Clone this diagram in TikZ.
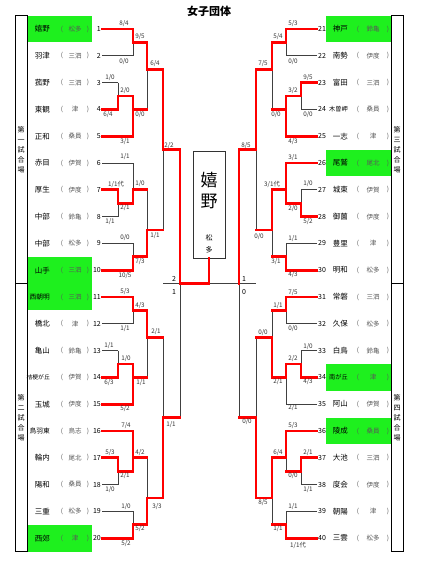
\documentclass[tikz,border=0pt]{standalone}
\usepackage{fontspec}
\newfontfamily\jp{Noto Sans CJK JP}
\definecolor{wg}{RGB}{30,240,30}
\newcommand\smallname[1]{{\fontsize{5.8}{7}\selectfont #1}}
\newcommand\midname[1]{{\fontsize{6.7}{7}\selectfont #1}}
\newcommand\rmidname[1]{{\fontsize{6.2}{7}\selectfont #1}}
\newcommand\bracketskel{%
  \foreach \bb in {0,20}{%
    \draw[bl] (102,\bb+1) -- (133,\bb+1) (102,\bb+3) -- (133,\bb+3)
      (133,\bb+1) -- (133,\bb+3) (133,\bb+2) -- (147,\bb+2)
      (102,\bb+5) -- (118,\bb+5) (102,\bb+7) -- (118,\bb+7)
      (118,\bb+5) -- (118,\bb+7) (118,\bb+6) -- (133,\bb+6)
      (102,\bb+9) -- (133,\bb+9) (133,\bb+6) -- (133,\bb+9) (133,\bb+7) -- (147,\bb+7)
      (147,\bb+2) -- (147,\bb+7) (147,\bb+4) -- (163,\bb+4)
      (102,\bb+11) -- (133,\bb+11) (102,\bb+13) -- (118,\bb+13) (102,\bb+15) -- (118,\bb+15)
      (118,\bb+13) -- (118,\bb+15) (118,\bb+14) -- (133,\bb+14)
      (133,\bb+11) -- (133,\bb+14) (133,\bb+13) -- (147,\bb+13)
      (102,\bb+17) -- (133,\bb+17) (102,\bb+19) -- (133,\bb+19)
      (133,\bb+17) -- (133,\bb+19) (133,\bb+18) -- (147,\bb+18)
      (147,\bb+13) -- (147,\bb+18) (147,\bb+16) -- (163,\bb+16);
  }%
  \draw[bl] (163,4) -- (163,16) (163,10) -- (180,10) -- (180,20)
    (163,24) -- (163,36) (163,30) -- (180,30) -- (180,20);
}
\begin{document}
\begin{tikzpicture}[x=1pt,y=-1pt,
  bl/.style={draw=black!75,line width=0.75pt},
  rd/.style={draw=red,line width=2.7pt,line join=miter,line cap=rect},
  sc/.style={font=\jp\fontsize{6.3}{7}\selectfont,text=black!80,inner sep=0},
  nm/.style={font=\jp\fontsize{7.5}{8}\selectfont,inner sep=0},
  af/.style={font=\jp\fontsize{6.5}{7}\selectfont,text=black!65,inner sep=0},
  num/.style={font=\jp\fontsize{7}{8}\selectfont,inner sep=0},
  vl/.style={font=\jp\fontsize{7}{10}\selectfont,align=center,inner sep=0},
  fr/.style={draw=black,line width=0.8pt}]
\useasboundingbox (0,0) rectangle (423,563);
\fill[white] (0,0) rectangle (423,563);
% green highlights
\fill[wg] (27,15.6) rectangle (92,42.4);
\fill[wg] (27,256.8) rectangle (92,283.6);
\fill[wg] (27,283.6) rectangle (92,310.4);
\fill[wg] (27,524.8) rectangle (92,551.6);
\fill[wg] (326,15.6) rectangle (391,42.4);
\fill[wg] (326,149.6) rectangle (391,176.4);
\fill[wg] (326,364) rectangle (391,390.8);
\fill[wg] (326,417.6) rectangle (391,444.4);
% frames
\draw[fr] (15,15.6) rectangle (27,551.6) (15,283.6) -- (27,283.6);
\draw[fr] (391,15.6) rectangle (403,551.6) (391,283.6) -- (403,283.6);
\node[vl] (lab1) at (21,150) {第\\一\\試\\合\\場};
\node[vl] (lab2) at (21,418) {第\\二\\試\\合\\場};
\node[vl] (lab3) at (397,150) {第\\三\\試\\合\\場};
\node[vl] (lab4) at (397,418) {第\\四\\試\\合\\場};
% title
\node[font=\jp\bfseries\fontsize{11}{12}\selectfont,inner sep=0] (title) at (209,11) {女子団体};
% champion box
\node[draw=black!80,line width=0.8pt,minimum width=32pt,minimum height=107pt,inner sep=0,fill=white] (champ) at (209,204.5) {};
\node[font=\jp\fontsize{17}{18}\selectfont,inner sep=0] (c1) at (209,180) {嬉};
\node[font=\jp\fontsize{17}{18}\selectfont,inner sep=0] (c2) at (209,201) {野};
\node[font=\jp\fontsize{7}{8}\selectfont,inner sep=0] (c3) at (209,238) {松};
\node[font=\jp\fontsize{7}{8}\selectfont,inner sep=0] (c4) at (209,250) {多};
% teams left
\foreach \tname/\taff [count=\i] in {嬉野/松多,羽津/三泗,菰野/三泗,東観/津,正和/桑員,赤目/伊賀,厚生/伊度,中部/鈴亀,中部/松多,山手/三泗,\midname{西朝明}/三泗,橋北/津,亀山/鈴亀,\smallname{桔梗が丘}/伊賀,玉城/伊度,\midname{鳥羽東}/鳥志,輪内/尾北,陽和/桑員,三重/松多,西郊/津}{
  \pgfmathsetmacro\yy{29+26.8*(\i-1)}
  \node[nm,anchor=east] (ln\i) at (50,\yy) {\tname};
  \node[af] (lpa\i) at (62,\yy) {(};
  \node[af] (la\i) at (75,\yy) {\taff};
  \node[af] (lpb\i) at (88,\yy) {)};
  \node[num,anchor=east] (lnum\i) at (101,\yy) {\i};
}
% teams right
\foreach \tname/\taff [count=\i] in {神戸/鈴亀,南勢/伊度,富田/三泗,\rmidname{木曽岬}/桑員,一志/津,尾鷲/尾北,城東/伊賀,御薗/伊度,豊里/津,明和/松多,常磐/三泗,久保/松多,白鳥/鈴亀,\rmidname{南が丘}/津,阿山/伊賀,陵成/桑員,大池/三泗,度会/伊度,朝陽/津,三雲/松多}{
  \pgfmathsetmacro\yy{29+26.8*(\i-1)}
  \pgfmathtruncatemacro\jn{\i+20}
  \node[num,anchor=west] (rnum\i) at (318,\yy) {\jn};
  \node[nm,anchor=east] (rn\i) at (348,\yy) {\tname};
  \node[af] (rpa\i) at (358,\yy) {(};
  \node[af] (ra\i) at (373,\yy) {\taff};
  \node[af] (rpb\i) at (388,\yy) {)};
}
% bracket lines, left
\begin{scope}[y=-13.4pt,yshift=-15.6pt]
  \bracketskel
  \draw[bl] (163,20) -- (256,20);
  \draw[rd] (102,1) -- (133,1) -- (133,2) -- (147,2) -- (147,4) -- (163,4) -- (163,10) -- (180,10) -- (180,20) -| (champ.south);
  \draw[rd] (102,7) -- (118,7) -- (118,6) -- (133,6) -- (133,7) -- (147,7);
  \draw[rd] (102,9) -- (133,9) -- (133,7);
  \draw[rd] (102,13) -- (118,13) -- (118,14) -- (133,14) -- (133,13) -- (147,13);
  \draw[rd] (102,19) -- (133,19) -- (133,18) -- (147,18) -- (147,16) -- (163,16);
  \draw[rd] (102,21) -- (133,21) -- (133,22) -- (147,22) -- (147,24) -- (163,24);
  \draw[rd] (102,27) -- (118,27) -- (118,26) -- (133,26) -- (133,27);
  \draw[rd] (102,29) -- (133,29) -- (133,27) -- (147,27);
  \draw[rd] (102,31) -- (133,31) -- (133,33) -- (147,33);
  \draw[rd] (102,33) -- (118,33) -- (118,34) -- (133,34) -- (133,33);
  \draw[rd] (102,39) -- (133,39) -- (133,38) -- (147,38) -- (147,36) -- (163,36) -- (163,30) -- (180,30);
\end{scope}
% bracket lines, right (mirrored)
\begin{scope}[y=-13.4pt,yshift=-15.6pt,xshift=419pt,xscale=-1]
  \bracketskel
  \draw[rd] (102,1) -- (133,1) -- (133,2) -- (147,2) -- (147,4) -- (163,4) -- (163,10) -- (180,10) -- (180,20);
  \draw[rd] (102,5) -- (118,5) -- (118,6) -- (133,6) -- (133,7) -- (147,7);
  \draw[rd] (102,9) -- (133,9) -- (133,7);
  \draw[rd] (102,11) -- (133,11) -- (133,13) -- (147,13) -- (147,16) -- (163,16);
  \draw[rd] (102,15) -- (118,15) -- (118,14) -- (133,14) -- (133,13);
  \draw[rd] (102,19) -- (133,19) -- (133,18) -- (147,18);
  \draw[rd] (102,21) -- (133,21) -- (133,22) -- (147,22);
  \draw[rd] (102,27) -- (118,27) -- (118,26) -- (133,26) -- (133,27) -- (147,27) -- (147,24) -- (163,24);
  \draw[rd] (102,31) -- (133,31) -- (133,33) -- (147,33) -- (147,36) -- (163,36) -- (163,30) -- (180,30);
  \draw[rd] (102,33) -- (118,33) -- (118,34) -- (133,34);
  \draw[rd] (102,39) -- (133,39) -- (133,38) -- (147,38);
\end{scope}
% scores
\foreach \x/\y/\a/\b [count=\n] in {124/24/8/4,140/37/9/5,124/62/0/0,155/64/6/4,110/78/1/0,125/91/2/0,108/115/6/4,140/115/0/0,125/142/3/1,169/146/2/2,125/157/1/1,116/184/1/1代,140/184/1/0,125/208/2/1,110/222/1/1,155/236/1/1,125/238/0/0,140/262/7/3,125/276/10/5,125/292/5/3,140/306/4/3,125/329/1/1,156/332/2/1,109/346/1/1,126/359/1/0,109/383/6/3,141/383/1/1,125/409/5/2,171/425/1/1,126/426/7/4,110/453/5/3,140/453/4/2,125/476/2/1,110/490/1/0,126/507/1/0,157/507/3/3,140/529/5/2,126/544/5/2}{
  \node[sc] (sl\n) at (\x,\y) {\a/\b};
}
\foreach \x/\y/\a/\b [count=\n] in {293/24/5/3,278/37/5/4,293/62/0/0,263/64/7/5,308/78/9/5,293/91/3/2,276/115/0/0,308/115/0/0,293/142/4/3,246/146/8/5,293/158/3/1,272/184/3/1代,308/184/1/0,293/209/2/0,308/222/5/2,259/237/0/0,293/239/1/1,276/262/3/1,293/275/4/3,293/293/7/5,278/306/1/1,293/329/0/0,263/333/0/0,308/347/1/0,293/359/2/2,278/382/2/1,308/382/4/3,293/408/2/1,247/422/0/0,293/426/5/3,278/453/6/4,308/453/2/1,293/476/0/0,308/490/1/1,263/503/8/5,293/507/1/1,278/529/1/1,298/545/1/1代}{
  \node[sc] (sr\n) at (\x,\y) {\a/\b};
}
\node[num] (f1) at (174,279) {2};
\node[num] (f2) at (174,292) {1};
\node[num] (f3) at (244,279) {1};
\node[num] (f4) at (244,292) {0};
\end{tikzpicture}
\end{document}
